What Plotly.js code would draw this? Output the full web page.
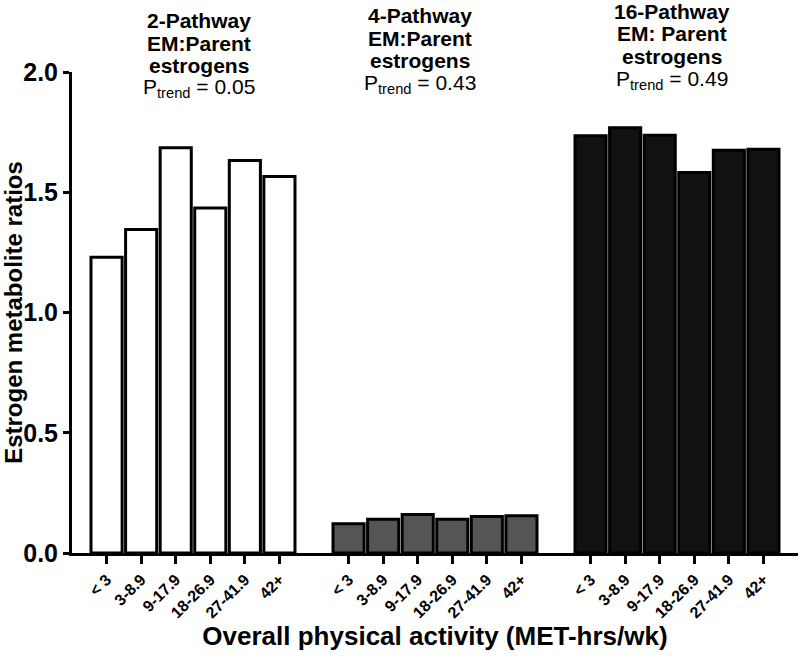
<!DOCTYPE html>
<html>
<head>
<meta charset="utf-8">
<script src="https://cdn.plot.ly/plotly-3.0.1.min.js"></script>
<style>html,body{margin:0;padding:0;background:#fff;}#chart{width:800px;height:659px;}</style>
</head>
<body>
<div id="chart"></div>
<script>
// ---- data ----
var categories = ["< 3", "3-8.9", "9-17.9", "18-26.9", "27-41.9", "42+"];
var groupNames = ["2-Pathway", "4-Pathway", "16-Pathway"];
var pathway2 = [1.23, 1.345, 1.685, 1.435, 1.632, 1.565];
var pathway4 = [0.122, 0.140, 0.160, 0.140, 0.152, 0.155];
var pathway16 = [1.735, 1.768, 1.737, 1.582, 1.675, 1.679];
var headerLine1 = ["2-Pathway", "4-Pathway", "16-Pathway"];
var headerLine2 = ["EM:Parent", "EM:Parent", "EM: Parent"];
var headerLine3 = ["estrogens", "estrogens", "estrogens"];
var pTrend = ["0.05", "0.43", "0.49"];

// ---- layout helpers ----
var seriesList = [pathway2, pathway4, pathway16];
var fills = ["#ffffff", "#555555", "#111111"];
var groupStride = categories.length + 1;
var FONT = "Liberation Sans, Arial, sans-serif";

var traces = [];
var tickvals = [], ticktext = [];
seriesList.forEach(function (vals, g) {
  var xs = categories.map(function (c, i) { return g * groupStride + i; });
  xs.forEach(function (x, i) { tickvals.push(x); ticktext.push(categories[i]); });
  traces.push({
    type: "bar",
    name: groupNames[g],
    x: xs,
    y: vals,
    width: 0.9,
    marker: { color: fills[g], line: { color: "#000000", width: 3 } },
    hoverinfo: "x+y"
  });
});

var headerX = [199, 420, 672];
var headerY = [[20, 43, 66, 88], [15, 38, 61, 84], [11, 34, 57, 80]];
var annotations = [];
for (var g = 0; g < 3; g++) {
  var lines = [headerLine1[g], headerLine2[g], headerLine3[g]];
  lines.forEach(function (t, k) {
    annotations.push({
      xref: "paper", yref: "paper",
      x: (headerX[g] - 72) / 726, y: 1 - (headerY[g][k] - 72) / 481,
      xanchor: "center", yanchor: "middle",
      text: "<b>" + t + "</b>", showarrow: false,
      font: { family: FONT, size: 21, color: "#000" }
    });
  });
  annotations.push({
    xref: "paper", yref: "paper",
    x: (headerX[g] - 72) / 726, y: 1 - (headerY[g][3] - 72) / 481,
    xanchor: "center", yanchor: "middle",
    text: "P<sub>trend</sub> = " + pTrend[g], showarrow: false,
    font: { family: FONT, size: 21, color: "#000" }
  });
}

var layout = {
  width: 800, height: 659,
  margin: { l: 72, r: 2, t: 72, b: 106 },
  paper_bgcolor: "#fff", plot_bgcolor: "#fff",
  showlegend: false,
  font: { family: FONT, color: "#000" },
  xaxis: {
    range: [-1, groupStride * 3 - 1],
    tickmode: "array", tickvals: tickvals, ticktext: ticktext,
    tickangle: -45,
    tickfont: { family: FONT, size: 16, color: "#000", weight: "bold" },
    ticks: "outside", ticklen: 8, tickwidth: 3, tickcolor: "#000",
    showline: true, linewidth: 3, linecolor: "#000",
    showgrid: false, zeroline: false,
    title: { text: "<b>Overall physical activity (MET-hrs/wk)</b>", font: { family: FONT, size: 26, color: "#000" }, standoff: 5 }
  },
  yaxis: {
    range: [0, 2.0],
    tickvals: [0, 0.5, 1.0, 1.5, 2.0],
    tickformat: ".1f",
    tickfont: { family: FONT, size: 25, color: "#000", weight: "bold" },
    ticks: "outside", ticklen: 6, tickwidth: 3, tickcolor: "#000",
    showline: true, linewidth: 3, linecolor: "#000",
    showgrid: false, zeroline: false,
    title: { text: "<b>Estrogen metabolite ratios</b>", font: { family: FONT, size: 24, color: "#000" }, standoff: 1 }
  },
  annotations: annotations
};

Plotly.newPlot("chart", traces, layout, { displayModeBar: false, staticPlot: true });
</script>
</body>
</html>
